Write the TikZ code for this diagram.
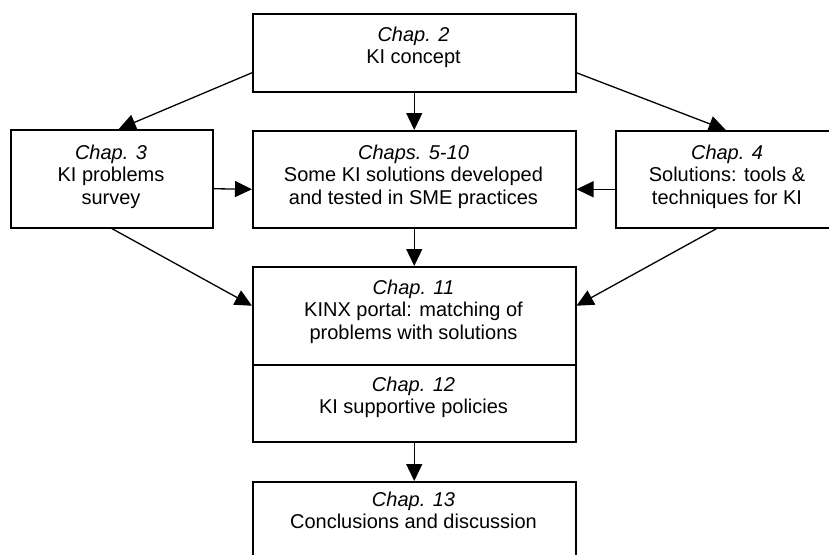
\documentclass[tikz,border=0pt]{standalone}
\usepackage{fontspec}
\setmainfont{Liberation Sans}
\usetikzlibrary{arrows.meta}
\begin{document}
\begin{tikzpicture}[x=1pt,y=-1pt,
  box/.style={draw, line width=1.5pt, rectangle, inner sep=0pt, anchor=north west},
  lbl/.style={align=center, inner sep=0pt, anchor=north, font=\fontsize{20}{22.5}\selectfont},
  conn/.style={line width=1.3pt, -{Triangle[length=17pt,width=16pt]}}
]
\useasboundingbox (0,0) rectangle (829,554);
\clip (0,0) rectangle (829,554);

% chapter boxes
\node[box, minimum width=323pt, minimum height=78pt] (c2) at (252,13) {};
\node[box, minimum width=202pt, minimum height=98pt] (c3) at (10,129) {};
\node[box, minimum width=323pt, minimum height=97pt] (c5) at (252,130) {};
\node[box, minimum width=224pt, minimum height=97pt] (c4) at (615,130) {};
\node[box, minimum width=323pt, minimum height=98pt] (c11) at (252,266) {};
\node[box, minimum width=323pt, minimum height=77pt] (c12) at (252,364) {};
\node[box, minimum width=323pt, minimum height=90pt] (c13) at (252,481) {};

% box texts
\node[lbl] (t2) at (413.5,25.5) {\strut\textit{Chap. 2}\\\strut KI concept};
\node[lbl] (t3) at (111,143.5) {\strut\textit{Chap. 3}\\\strut KI problems\\\strut survey};
\node[lbl] (t5) at (413.5,143.5) {\strut\textit{Chaps. 5-10}\\\strut Some KI solutions developed\\\strut and tested in SME practices};
\node[lbl] (t4) at (727,143.5) {\strut\textit{Chap. 4}\\\strut Solutions: tools \&\\\strut techniques for KI};
\node[lbl] (t11) at (413.5,278.5) {\strut\textit{Chap. 11}\\\strut KINX portal: matching of\\\strut problems with solutions};
\node[lbl] (t12) at (413.5,375.5) {\strut\textit{Chap. 12}\\\strut KI supportive policies};
\node[lbl] (t13) at (413.5,490.5) {\strut\textit{Chap. 13}\\\strut Conclusions and discussion};

% connectors
\draw[conn] ([yshift=-20pt]c2.west) -- ([xshift=7pt]c3.north);
\draw[conn] ([yshift=-20pt]c2.east) -- ([xshift=-2pt]c4.north);
\draw[conn] (c2.south) -- (c5.north);
\draw[conn] ([yshift=-10pt]c3.east) -- ([yshift=-10pt]c5.west);
\draw[conn] ([yshift=-10pt]c4.west) -- ([yshift=-10pt]c5.east);
\draw[conn] (c5.south) -- (c11.north);
\draw[conn] (c3.south) -- ([yshift=10pt]c11.west);
\draw[conn] ([xshift=-11pt]c4.south) -- ([yshift=10pt]c11.east);
\draw[conn] (c12.south) -- (c13.north);
\end{tikzpicture}
\end{document}
